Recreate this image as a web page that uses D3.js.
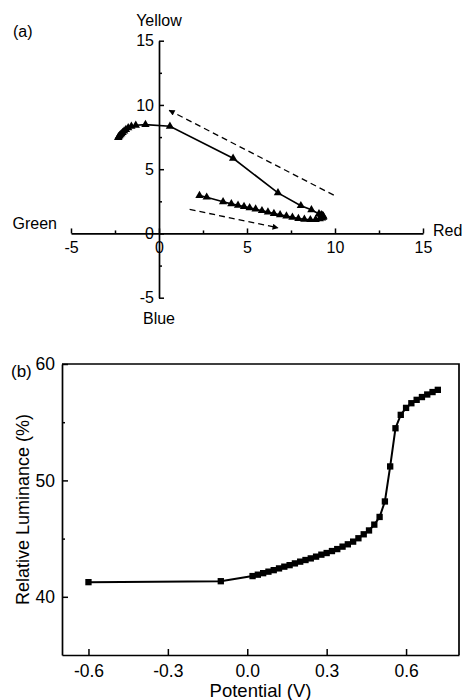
<!DOCTYPE html>
<html>
<head>
<meta charset="utf-8">
<script src="https://cdn.jsdelivr.net/npm/d3@7"></script>
<style>
  html, body { margin: 0; padding: 0; background: #fff; }
  svg { display: block; font-family: "Liberation Sans", Arial, Helvetica, sans-serif; }
</style>
</head>
<body>
<svg id="chart" width="464" height="700"></svg>
<script>
// ---- Panel (a): colour coordinates (a*, b*) during the potential sweep ----
const colorA = [2.30, 2.71, 3.64, 4.11, 4.49, 4.83, 5.15, 5.49, 5.85, 6.19, 6.53, 6.88, 7.24, 7.58, 7.92, 8.26, 8.60, 8.90, 9.13, 9.26, 9.33, 9.34, 9.30, 9.22, 9.09, 8.66, 8.06, 6.76, 4.21, 0.62, -0.77, -1.32, -1.57, -1.75, -1.88, -1.98, -2.07, -2.14, -2.20, -2.25, -2.29, -2.32];
const colorB = [2.95, 2.82, 2.46, 2.30, 2.19, 2.09, 1.99, 1.89, 1.77, 1.66, 1.55, 1.45, 1.35, 1.25, 1.16, 1.10, 1.07, 1.08, 1.14, 1.20, 1.26, 1.33, 1.40, 1.46, 1.52, 1.84, 2.16, 3.16, 5.85, 8.34, 8.47, 8.42, 8.34, 8.22, 8.08, 7.96, 7.85, 7.76, 7.67, 7.59, 7.52, 7.46];
const colorTicks = [-5, 0, 5, 10, 15];
const colorMinorTicks = [-2.5, 2.5, 7.5, 12.5];
// sweep direction arrows, [x1, y1, x2, y2] in colour units
const sweepArrows = [
  [9.93, 2.98, 0.58, 9.58],
  [1.74, 1.87, 6.76, 0.44]
];

// ---- Panel (b): relative luminance vs. potential ----
const potential = [-0.6, -0.1, 0.02, 0.04, 0.06, 0.08, 0.10, 0.12, 0.14, 0.16, 0.18, 0.20, 0.22, 0.24, 0.26, 0.28, 0.30, 0.32, 0.34, 0.36, 0.38, 0.40, 0.42, 0.44, 0.46, 0.48, 0.50, 0.52, 0.54, 0.56, 0.58, 0.60, 0.62, 0.64, 0.66, 0.68, 0.70, 0.72];
const luminance = [41.26, 41.34, 41.78, 41.90, 42.03, 42.16, 42.29, 42.44, 42.59, 42.72, 42.87, 43.02, 43.16, 43.30, 43.45, 43.62, 43.76, 43.93, 44.10, 44.31, 44.51, 44.74, 45.03, 45.37, 45.70, 46.20, 46.86, 48.19, 51.20, 54.48, 55.63, 56.23, 56.63, 56.92, 57.16, 57.38, 57.59, 57.78];
const potentialTicks = [-0.6, -0.3, 0.0, 0.3, 0.6];
const luminanceTicks = [40, 50, 60];
const luminanceMinorTicks = [45, 55];

const svg = d3.select("#chart");
const FONT = '"Liberation Sans", Arial, sans-serif';

function styleAxis(g, fs) {
  g.select(".domain").attr("stroke", "#000").attr("stroke-width", 1.7);
  g.selectAll(".tick line").attr("stroke", "#000").attr("stroke-width", 1.5);
  g.selectAll(".tick text").attr("fill", "#000").style("font-size", fs + "px").style("font-family", FONT);
}
function minorAxis(g) {
  g.select(".domain").remove();
  g.selectAll("line").attr("stroke", "#000").attr("stroke-width", 1.5);
}

// ================= Panel (a) =================
const xa = d3.scaleLinear().domain([-5, 15]).range([71, 423]);
const ya = d3.scaleLinear().domain([-5, 15]).range([297.7, 40.7]);
const ga = svg.append("g");

// horizontal (green-red) axis through the origin
const gxA = ga.append("g").attr("transform", `translate(0,${ya(0)})`)
  .call(d3.axisBottom(xa).tickValues(colorTicks).tickFormat(d3.format("d"))
    .tickSizeInner(-5).tickSizeOuter(0).tickPadding(8));
styleAxis(gxA, 16);
gxA.selectAll(".tick text").text(d => String(d));
ga.append("g").attr("transform", `translate(0,${ya(0)})`)
  .call(d3.axisBottom(xa).tickValues(colorMinorTicks).tickFormat("")
    .tickSizeInner(-3).tickSizeOuter(0))
  .call(minorAxis);

// vertical (blue-yellow) axis through the origin
const gyA = ga.append("g").attr("transform", `translate(${xa(0)},0)`)
  .call(d3.axisLeft(ya).tickValues(colorTicks).tickFormat(d3.format("d"))
    .tickSizeInner(-5).tickSizeOuter(0).tickPadding(5));
styleAxis(gyA, 16);
gyA.selectAll(".tick text").text(d => String(d));
ga.append("g").attr("transform", `translate(${xa(0)},0)`)
  .call(d3.axisLeft(ya).tickValues(colorMinorTicks).tickFormat("")
    .tickSizeInner(-3).tickSizeOuter(0))
  .call(minorAxis);

// axis end labels
const endLabel = (x, y, t, anchor) => ga.append("text").attr("x", x).attr("y", y)
  .attr("text-anchor", anchor).style("font-size", "16px").attr("fill", "#000").text(t);
endLabel(xa(0), 26, "Yellow", "middle");
endLabel(xa(0), 324, "Blue", "middle");
endLabel(57, 229, "Green", "end");
endLabel(433, 236, "Red", "start");
endLabel(13, 37, "(a)", "start");

// sweep direction arrows
const defs = svg.append("defs");
defs.append("marker").attr("id", "arrowHead")
  .attr("viewBox", "0 0 10 10").attr("refX", 9).attr("refY", 5)
  .attr("markerUnits", "userSpaceOnUse").attr("markerWidth", 8).attr("markerHeight", 6)
  .attr("orient", "auto")
  .append("path").attr("d", "M0,0 L10,5 L0,10 Z").attr("fill", "#000");

ga.selectAll("line.sweep").data(sweepArrows).join("line")
  .attr("class", "sweep")
  .attr("x1", d => xa(d[0])).attr("y1", d => ya(d[1]))
  .attr("x2", d => xa(d[2])).attr("y2", d => ya(d[3]))
  .attr("stroke", "#000").attr("stroke-width", 1.3)
  .attr("stroke-dasharray", "6,4")
  .attr("marker-end", "url(#arrowHead)");

// colour trajectory
const colorPts = colorA.map((a, i) => [a, colorB[i]]);
ga.append("path").datum(colorPts)
  .attr("fill", "none").attr("stroke", "#000").attr("stroke-width", 1.6)
  .attr("d", d3.line().x(d => xa(d[0])).y(d => ya(d[1])));
ga.selectAll("path.tri").data(colorPts).join("path")
  .attr("class", "tri")
  .attr("transform", d => `translate(${xa(d[0])},${ya(d[1])})`)
  .attr("d", d3.symbol(d3.symbolTriangle, 30))
  .attr("fill", "#000");

// ================= Panel (b) =================
const xb = d3.scaleLinear().domain([-0.7, 0.8]).range([62, 459]);
const yb = d3.scaleLinear().domain([35, 60]).range([655, 364]);
const gb = svg.append("g");

const gxB = gb.append("g").attr("transform", `translate(0,${yb(35)})`)
  .call(d3.axisBottom(xb).tickValues(potentialTicks)
    .tickSizeInner(-6).tickSizeOuter(0).tickPadding(10));
styleAxis(gxB, 17.5);
gxB.selectAll(".tick text").text(d => d3.format(".1f")(d).replace("−", "-"));

const gyB = gb.append("g").attr("transform", `translate(${xb(-0.7)},0)`)
  .call(d3.axisLeft(yb).tickValues(luminanceTicks).tickFormat(d3.format("d"))
    .tickSizeInner(-6).tickSizeOuter(0).tickPadding(7));
styleAxis(gyB, 17.5);
gb.append("g").attr("transform", `translate(${xb(-0.7)},0)`)
  .call(d3.axisLeft(yb).tickValues(luminanceMinorTicks).tickFormat("")
    .tickSizeInner(-3).tickSizeOuter(0))
  .call(minorAxis);

// top and right frame lines
gb.append("path")
  .attr("d", `M${xb(-0.7)},${yb(60)}H${xb(0.8)}V${yb(35)}`)
  .attr("fill", "none").attr("stroke", "#000").attr("stroke-width", 1.7);

gb.append("text").attr("x", (xb(-0.7) + xb(0.8)) / 2).attr("y", 697)
  .attr("text-anchor", "middle").style("font-size", "18.5px").text("Potential (V)");
gb.append("text")
  .attr("transform", `translate(29,${(yb(35) + yb(60)) / 2}) rotate(-90)`)
  .attr("text-anchor", "middle").style("font-size", "18px").text("Relative Luminance (%)");
gb.append("text").attr("x", 11).attr("y", 377).style("font-size", "17px").text("(b)");

// luminance curve
const lumPts = potential.map((p, i) => [p, luminance[i]]);
gb.append("path").datum(lumPts)
  .attr("fill", "none").attr("stroke", "#000").attr("stroke-width", 2)
  .attr("d", d3.line().x(d => xb(d[0])).y(d => yb(d[1])));
gb.selectAll("path.sq").data(lumPts).join("path")
  .attr("class", "sq")
  .attr("transform", d => `translate(${xb(d[0])},${yb(d[1])})`)
  .attr("d", d3.symbol(d3.symbolSquare, 40))
  .attr("fill", "#000");
</script>
</body>
</html>
